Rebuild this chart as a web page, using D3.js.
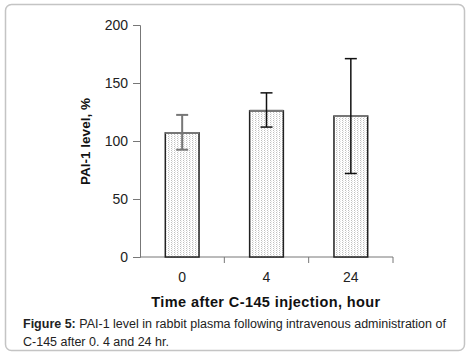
<!DOCTYPE html>
<html>
<head>
<meta charset="utf-8">
<script src="https://cdn.jsdelivr.net/npm/d3@7"></script>
<style>
  body { margin: 0; background: #fff; }
  svg text { font-family: Arial, "Liberation Sans", sans-serif; }
</style>
</head>
<body>
<div id="chart"></div>
<script>
/* DATA */
const categories = ["0", "4", "24"];
const means = [107, 126, 121.5];
const errUpper = [122.5, 141.5, 171];
const errLower = [92.5, 112, 72];
const yTicks = [0, 50, 100, 150, 200];

const width = 473, height = 358;
const margin = { top: 25, left: 140, right: 80, bottom: 101 };

const svg = d3.select("#chart").append("svg")
  .attr("width", width)
  .attr("height", height);

// rounded frame round the figure
svg.append("rect")
  .attr("x", 5.5).attr("y", 4.5)
  .attr("width", 459).attr("height", 346)
  .attr("rx", 6)
  .attr("fill", "none")
  .attr("stroke", "#c4c4c4")
  .attr("stroke-width", 1.5);

// dotted fill for the bars
const defs = svg.append("defs");
const pat = defs.append("pattern")
  .attr("id", "dots")
  .attr("patternUnits", "userSpaceOnUse")
  .attr("width", 3).attr("height", 2);
pat.append("rect").attr("width", 3).attr("height", 2).attr("fill", "#fff");
pat.append("rect").attr("x", 0).attr("y", 0).attr("width", 1).attr("height", 1).attr("fill", "#c0c0c0");
pat.append("rect").attr("x", 1).attr("y", 1).attr("width", 1).attr("height", 1).attr("fill", "#e4e4e4");

const x = d3.scaleBand()
  .domain(categories)
  .range([margin.left, width - margin.right])
  .paddingInner(0.6)
  .paddingOuter(0.3);

const y = d3.scaleLinear()
  .domain([0, 200])
  .range([height - margin.bottom, margin.top]);

// y axis
const yAxis = svg.append("g")
  .attr("transform", `translate(${margin.left},0)`)
  .call(d3.axisLeft(y).tickValues(yTicks).tickSize(7).tickPadding(5));
yAxis.select(".domain").attr("stroke", "#777");
yAxis.selectAll(".tick line").attr("stroke", "#777");
yAxis.selectAll("text").attr("font-size", 14).attr("fill", "#222")
  .attr("font-family", "Arial, 'Liberation Sans', sans-serif");

// x axis: ticks sit between the categories
const step = x.step();
const xBoundaries = categories.map((c, i) => x(c) + x.bandwidth() / 2 + step / 2);
const xAxisG = svg.append("g");
xAxisG.append("line")
  .attr("x1", margin.left).attr("x2", d3.max(xBoundaries))
  .attr("y1", y(0)).attr("y2", y(0))
  .attr("stroke", "#777");
xAxisG.selectAll("line.tk")
  .data(xBoundaries)
  .join("line")
  .attr("class", "tk")
  .attr("x1", d => d).attr("x2", d => d)
  .attr("y1", y(0)).attr("y2", y(0) + 6)
  .attr("stroke", "#777");
xAxisG.selectAll("text")
  .data(categories)
  .join("text")
  .attr("x", d => x(d) + x.bandwidth() / 2)
  .attr("y", y(0) + 25)
  .attr("text-anchor", "middle")
  .attr("font-size", 14)
  .attr("fill", "#222")
  .text(d => d);

// bars
const bars = svg.append("g").selectAll("g")
  .data(categories)
  .join("g");

bars.append("rect")
  .attr("x", d => x(d))
  .attr("y", (d, i) => y(means[i]))
  .attr("width", x.bandwidth())
  .attr("height", (d, i) => y(0) - y(means[i]))
  .attr("fill", "url(#dots)")
  .attr("stroke", "#222")
  .attr("stroke-width", 1.5);

bars.append("line")
  .attr("x1", d => x(d)).attr("x2", d => x(d) + x.bandwidth())
  .attr("y1", (d, i) => y(means[i])).attr("y2", (d, i) => y(means[i]))
  .attr("stroke", "#777")
  .attr("stroke-width", 2);

// error bars
const cap = 6;
bars.each(function (d, i) {
  const g = d3.select(this);
  const cx = x(d) + x.bandwidth() / 2;
  const col = i === 0 ? "#777" : "#111";
  g.append("line")
    .attr("x1", cx).attr("x2", cx)
    .attr("y1", y(errUpper[i])).attr("y2", y(errLower[i]))
    .attr("stroke", col).attr("stroke-width", i === 0 ? 2 : 1.5);
  [errUpper[i], errLower[i]].forEach(v => {
    g.append("line")
      .attr("x1", cx - cap).attr("x2", cx + cap)
      .attr("y1", y(v)).attr("y2", y(v))
      .attr("stroke", col).attr("stroke-width", i === 0 ? 2 : 1.5);
  });
});

// axis titles
svg.append("text")
  .attr("transform", `translate(90,141.5) rotate(-90)`)
  .attr("text-anchor", "middle")
  .attr("font-size", 13.5)
  .attr("font-weight", "bold")
  .attr("fill", "#111")
  .text("PAI-1 level, %");

svg.append("text")
  .attr("x", 266)
  .attr("y", 307)
  .attr("text-anchor", "middle")
  .attr("font-size", 14.5)
  .attr("font-weight", "bold")
  .attr("letter-spacing", 0.4)
  .attr("fill", "#111")
  .text("Time after C-145 injection, hour");

// caption
const cap1 = svg.append("text")
  .attr("x", 23).attr("y", 328)
  .attr("font-size", 12.5)
  .attr("fill", "#222");
cap1.append("tspan").attr("font-weight", "bold").text("Figure 5:");
cap1.append("tspan").text(" PAI-1 level in rabbit plasma following intravenous administration of");

svg.append("text")
  .attr("x", 23).attr("y", 346)
  .attr("font-size", 12.5)
  .attr("fill", "#222")
  .text("C-145 after 0. 4 and 24 hr.");
</script>
</body>
</html>
